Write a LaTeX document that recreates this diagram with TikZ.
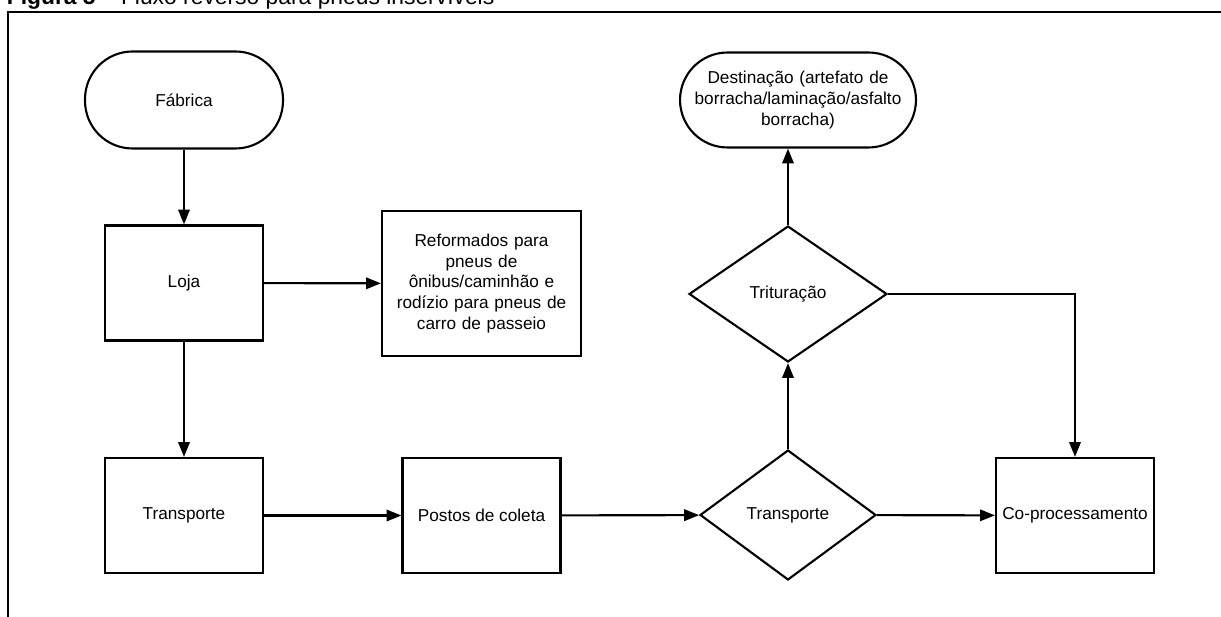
\documentclass[tikz,border=0pt]{standalone}
\usepackage{fontspec}
\setmainfont{Liberation Sans}
\usetikzlibrary{shapes.geometric,arrows.meta}
\begin{document}
\begin{tikzpicture}[
x=0.02cm, y=-0.02cm,
every node/.style={draw, line width=1.2pt, font=\fontsize{9.8}{11.7}\selectfont, align=center, inner sep=1pt},
proc/.style={rectangle, minimum width=3.16cm, minimum height=2.3cm},
term/.style={rectangle, rounded corners=0.95cm, minimum height=1.94cm},
choice/.style={diamond, inner sep=0pt},
flow/.style={line width=1.2pt, -{Triangle[length=8.5pt, width=6.5pt]}}
]
\useasboundingbox (0,0) rectangle (1221,617);
% moldura e legenda
\node[draw=none, anchor=base west, font=\fontsize{13}{15}\selectfont] (cap) at (4,4.5) {\textbf{Figura 5} – Fluxo reverso para pneus inservíveis};
\draw[line width=1.4pt] (8,617) -- (8,12) -- (1221,12);
% coluna da esquerda
\node[term, minimum width=3.96cm] (fab) at (184,100) {Fábrica};
\node[proc] (loja) at (184,283) {Loja};
\node[proc, minimum width=3.98cm, minimum height=2.9cm, text width=3.6cm] (ref) at (481.5,283.5)
  {Reformados para\\pneus de\\ônibus/caminhão e\\rodízio para pneus de\\carro de passeio};
\node[proc] (transp) at (184,515.5) {Transporte};
\node[proc] (postos) at (481.5,515.5) {Postos de coleta};
% lado direito
\node[choice, minimum width=3.52cm, minimum height=2.6cm] (transp2) at (788,515) {Transporte};
\node[choice, minimum width=3.96cm, minimum height=2.72cm] (trit) at (788,294) {Trituração};
\node[term, minimum width=4.72cm, minimum height=1.9cm, text width=4.6cm] (dest) at (798,100)
  {Destinação (artefato de\\borracha/laminação/asfalto\\borracha)};
\node[proc] (copro) at (1075,515.5) {Co-processamento};
% ligacoes
\draw[flow] (fab) -- (loja);
\draw[flow] (loja) -- (ref);
\draw[flow] (loja) -- (transp);
\draw[flow] (transp) -- (postos);
\draw[flow] (postos) -- (transp2);
\draw[flow] (transp2) -- (copro);
\draw[flow] (transp2) -- (trit);
\draw[flow] (trit.north) -- (trit.north |- dest.south);
\draw[flow] (trit.east) -| (copro.north);
\end{tikzpicture}
\end{document}
